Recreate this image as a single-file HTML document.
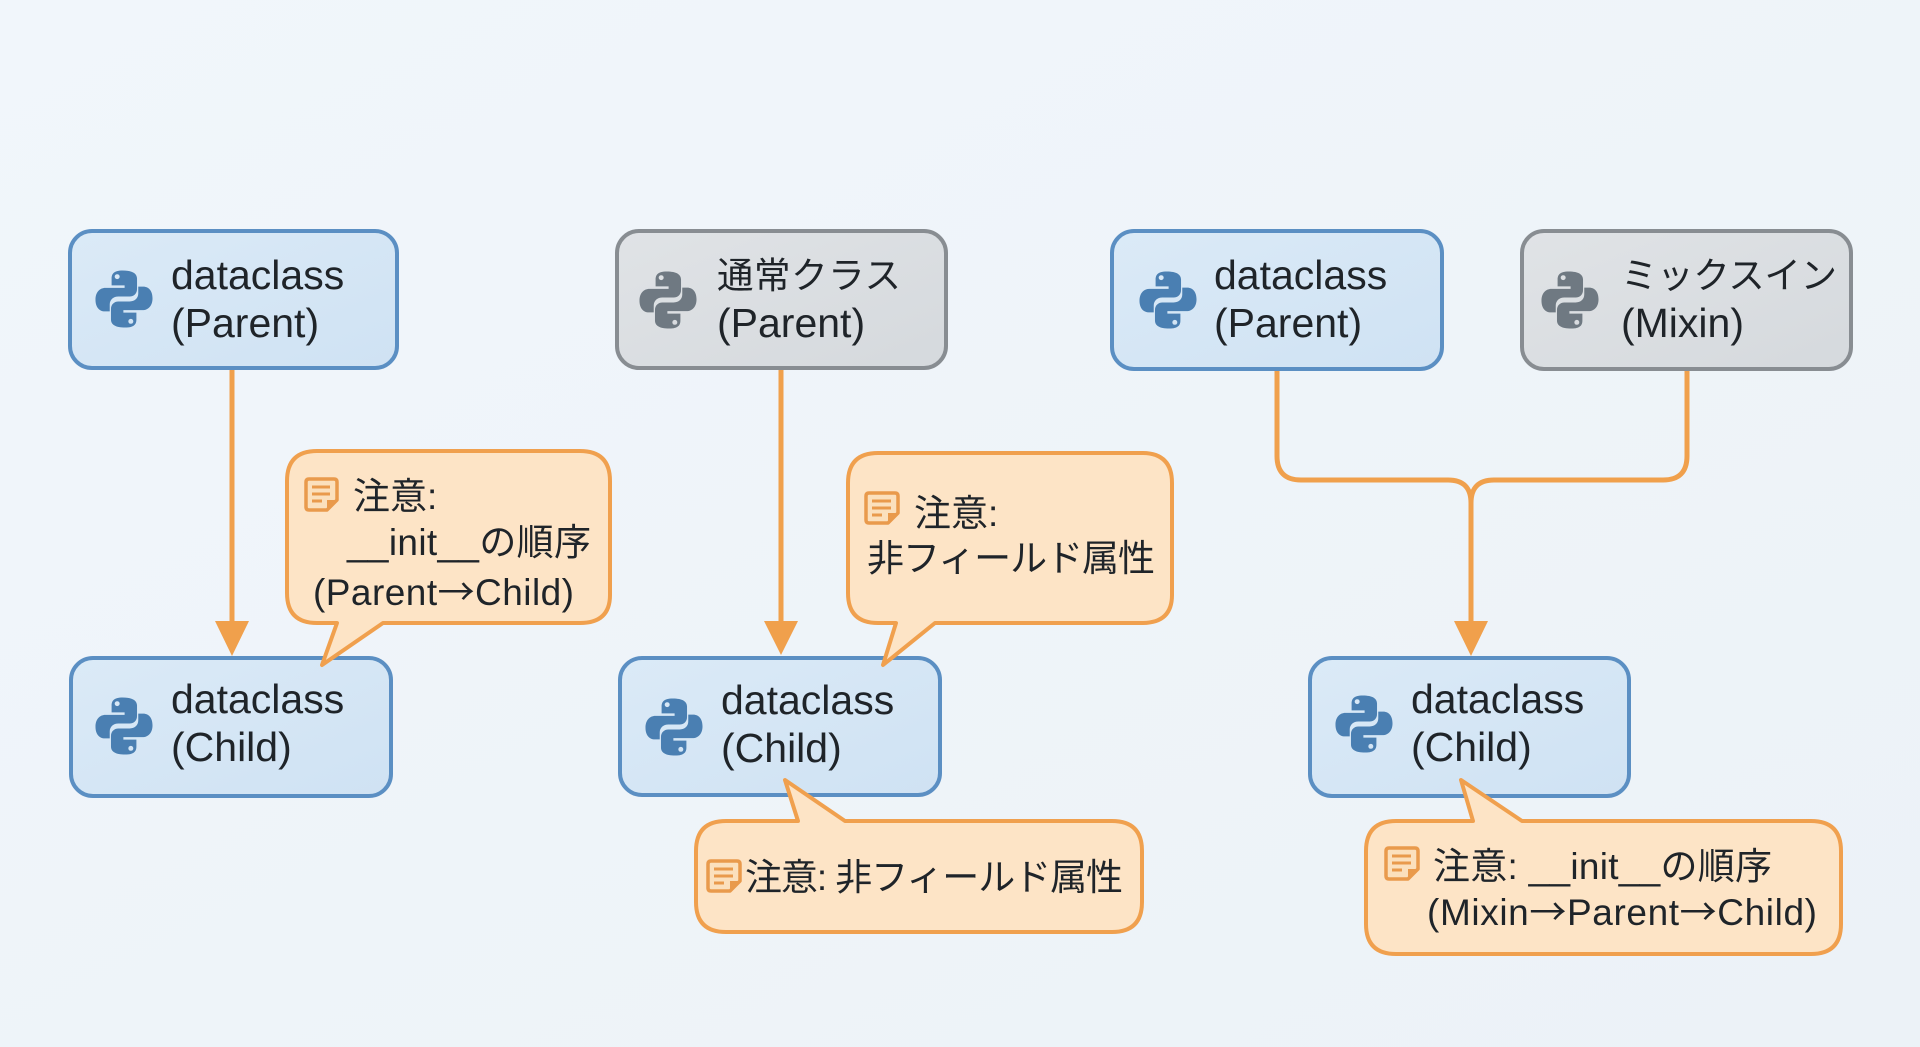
<!DOCTYPE html>
<html>
<head>
<meta charset="utf-8">
<style>
html,body{margin:0;padding:0;}
body{width:1920px;height:1047px;overflow:hidden;background:#eef4f9;}
svg{display:block;}
text{font-family:"Liberation Sans","Noto Sans CJK JP",sans-serif;fill:#1f2429;}
.t{font-size:41px;}
.j{font-size:36.5px;}
.n{font-size:37px;}
.ar{font-family:"Noto Sans CJK JP",sans-serif;}
</style>
</head>
<body>
<svg width="1920" height="1047" viewBox="0 0 1920 1047" xmlns="http://www.w3.org/2000/svg">
<defs>
<linearGradient id="bg" x1="0" y1="0" x2="1" y2="1">
<stop offset="0" stop-color="#f1f6fb"/>
<stop offset="1" stop-color="#ecf2f7"/>
</linearGradient>
<linearGradient id="bl" x1="0" y1="0" x2="1" y2="1">
<stop offset="0" stop-color="#dbeaf7"/>
<stop offset="1" stop-color="#cfe2f3"/>
</linearGradient>
<linearGradient id="gr" x1="0" y1="0" x2="1" y2="1">
<stop offset="0" stop-color="#e0e3e6"/>
<stop offset="1" stop-color="#d5d9dd"/>
</linearGradient>
</defs>
<rect x="0" y="0" width="1920" height="1047" fill="url(#bg)"/>

<!-- connectors -->
<g stroke="#f0a04c" stroke-width="5" fill="none" stroke-linecap="round">
<line x1="232" y1="369" x2="232" y2="626"/>
<line x1="781" y1="368" x2="781" y2="626"/>
<path d="M1277 370 V456 Q1277 480 1301 480 H1448 Q1471 480 1471 503 V626"/>
<path d="M1687 370 V456 Q1687 480 1663 480 H1494 Q1471 480 1471 503"/>
</g>
<g fill="#f0a04c">
<polygon points="215,621 249,621 232,656"/>
<polygon points="764,621 798,621 781,655"/>
<polygon points="1454,621 1488,621 1471,656"/>
</g>

<!-- boxes row 1 -->
<rect x="70" y="231" width="327" height="137" rx="22" fill="url(#bl)" stroke="#5b8fc3" stroke-width="4"/>
<rect x="617" y="231" width="329" height="137" rx="22" fill="url(#gr)" stroke="#888d92" stroke-width="4"/>
<rect x="1112" y="231" width="330" height="138" rx="22" fill="url(#bl)" stroke="#5b8fc3" stroke-width="4"/>
<rect x="1522" y="231" width="329" height="138" rx="22" fill="url(#gr)" stroke="#888d92" stroke-width="4"/>

<!-- boxes row 2 -->
<rect x="71" y="658" width="320" height="138" rx="22" fill="url(#bl)" stroke="#5b8fc3" stroke-width="4"/>
<rect x="620" y="658" width="320" height="137" rx="22" fill="url(#bl)" stroke="#5b8fc3" stroke-width="4"/>
<rect x="1310" y="658" width="319" height="138" rx="22" fill="url(#bl)" stroke="#5b8fc3" stroke-width="4"/>

<!-- python icons -->
<g transform="translate(93,268) scale(0.62)" fill="#4a7fb2">
<path d="M48,4 C33,4 30,10 30,17 V28 H51 V32 H20 C11,32 4,39 4,51 C4,63 10,70 19,70 H27 V59 C27,51 33,46 41,46 H59 C66,46 71,41 71,34 V17 C71,9 64,4 48,4 Z"/>
<path transform="rotate(180 50 50)" d="M48,4 C33,4 30,10 30,17 V28 H51 V32 H20 C11,32 4,39 4,51 C4,63 10,70 19,70 H27 V59 C27,51 33,46 41,46 H59 C66,46 71,41 71,34 V17 C71,9 64,4 48,4 Z"/>
<circle cx="39" cy="14" r="4" fill="#d8e8f6"/><circle cx="61" cy="86" r="4" fill="#d2e4f4"/>
</g>
<g transform="translate(93,695) scale(0.62)" fill="#4a7fb2">
<path d="M48,4 C33,4 30,10 30,17 V28 H51 V32 H20 C11,32 4,39 4,51 C4,63 10,70 19,70 H27 V59 C27,51 33,46 41,46 H59 C66,46 71,41 71,34 V17 C71,9 64,4 48,4 Z"/>
<path transform="rotate(180 50 50)" d="M48,4 C33,4 30,10 30,17 V28 H51 V32 H20 C11,32 4,39 4,51 C4,63 10,70 19,70 H27 V59 C27,51 33,46 41,46 H59 C66,46 71,41 71,34 V17 C71,9 64,4 48,4 Z"/>
<circle cx="39" cy="14" r="4" fill="#d8e8f6"/><circle cx="61" cy="86" r="4" fill="#d2e4f4"/>
</g>
<g transform="translate(637,269) scale(0.62)" fill="#6f7982">
<path d="M48,4 C33,4 30,10 30,17 V28 H51 V32 H20 C11,32 4,39 4,51 C4,63 10,70 19,70 H27 V59 C27,51 33,46 41,46 H59 C66,46 71,41 71,34 V17 C71,9 64,4 48,4 Z"/>
<path transform="rotate(180 50 50)" d="M48,4 C33,4 30,10 30,17 V28 H51 V32 H20 C11,32 4,39 4,51 C4,63 10,70 19,70 H27 V59 C27,51 33,46 41,46 H59 C66,46 71,41 71,34 V17 C71,9 64,4 48,4 Z"/>
<circle cx="39" cy="14" r="4" fill="#dde0e3"/><circle cx="61" cy="86" r="4" fill="#d8dbdf"/>
</g>
<g transform="translate(643,696) scale(0.62)" fill="#4a7fb2">
<path d="M48,4 C33,4 30,10 30,17 V28 H51 V32 H20 C11,32 4,39 4,51 C4,63 10,70 19,70 H27 V59 C27,51 33,46 41,46 H59 C66,46 71,41 71,34 V17 C71,9 64,4 48,4 Z"/>
<path transform="rotate(180 50 50)" d="M48,4 C33,4 30,10 30,17 V28 H51 V32 H20 C11,32 4,39 4,51 C4,63 10,70 19,70 H27 V59 C27,51 33,46 41,46 H59 C66,46 71,41 71,34 V17 C71,9 64,4 48,4 Z"/>
<circle cx="39" cy="14" r="4" fill="#d8e8f6"/><circle cx="61" cy="86" r="4" fill="#d2e4f4"/>
</g>
<g transform="translate(1137,269) scale(0.62)" fill="#4a7fb2">
<path d="M48,4 C33,4 30,10 30,17 V28 H51 V32 H20 C11,32 4,39 4,51 C4,63 10,70 19,70 H27 V59 C27,51 33,46 41,46 H59 C66,46 71,41 71,34 V17 C71,9 64,4 48,4 Z"/>
<path transform="rotate(180 50 50)" d="M48,4 C33,4 30,10 30,17 V28 H51 V32 H20 C11,32 4,39 4,51 C4,63 10,70 19,70 H27 V59 C27,51 33,46 41,46 H59 C66,46 71,41 71,34 V17 C71,9 64,4 48,4 Z"/>
<circle cx="39" cy="14" r="4" fill="#d8e8f6"/><circle cx="61" cy="86" r="4" fill="#d2e4f4"/>
</g>
<g transform="translate(1539,269) scale(0.62)" fill="#6f7982">
<path d="M48,4 C33,4 30,10 30,17 V28 H51 V32 H20 C11,32 4,39 4,51 C4,63 10,70 19,70 H27 V59 C27,51 33,46 41,46 H59 C66,46 71,41 71,34 V17 C71,9 64,4 48,4 Z"/>
<path transform="rotate(180 50 50)" d="M48,4 C33,4 30,10 30,17 V28 H51 V32 H20 C11,32 4,39 4,51 C4,63 10,70 19,70 H27 V59 C27,51 33,46 41,46 H59 C66,46 71,41 71,34 V17 C71,9 64,4 48,4 Z"/>
<circle cx="39" cy="14" r="4" fill="#dde0e3"/><circle cx="61" cy="86" r="4" fill="#d8dbdf"/>
</g>
<g transform="translate(1333,693) scale(0.62)" fill="#4a7fb2">
<path d="M48,4 C33,4 30,10 30,17 V28 H51 V32 H20 C11,32 4,39 4,51 C4,63 10,70 19,70 H27 V59 C27,51 33,46 41,46 H59 C66,46 71,41 71,34 V17 C71,9 64,4 48,4 Z"/>
<path transform="rotate(180 50 50)" d="M48,4 C33,4 30,10 30,17 V28 H51 V32 H20 C11,32 4,39 4,51 C4,63 10,70 19,70 H27 V59 C27,51 33,46 41,46 H59 C66,46 71,41 71,34 V17 C71,9 64,4 48,4 Z"/>
<circle cx="39" cy="14" r="4" fill="#d8e8f6"/><circle cx="61" cy="86" r="4" fill="#d2e4f4"/>
</g>

<!-- box texts -->
<text class="t" x="171" y="289">dataclass</text>
<text class="t" x="171" y="337">(Parent)</text>
<text class="j" x="717" y="288" textLength="184">通常クラス</text>
<text class="t" x="717" y="337">(Parent)</text>
<text class="t" x="1214" y="289">dataclass</text>
<text class="t" x="1214" y="337">(Parent)</text>
<text class="j" x="1621" y="288" textLength="216">ミックスイン</text>
<text class="t" x="1621" y="337">(Mixin)</text>
<text class="t" x="171" y="713">dataclass</text>
<text class="t" x="171" y="761">(Child)</text>
<text class="t" x="721" y="714">dataclass</text>
<text class="t" x="721" y="762">(Child)</text>
<text class="t" x="1411" y="713">dataclass</text>
<text class="t" x="1411" y="761">(Child)</text>

<!-- callouts -->
<g fill="#fde4c6" stroke="#f0a04e" stroke-width="4" stroke-linejoin="round">
<path d="M317 451 H580 Q610 451 610 481 V595 Q610 623 580 623 H383 L322 665 L337 623 H317 Q287 623 287 593 V481 Q287 451 317 451 Z"/>
<path d="M878 453 H1142 Q1172 453 1172 483 V595 Q1172 623 1142 623 H935 L883 665 L896 623 H878 Q848 623 848 593 V483 Q848 453 878 453 Z"/>
<path d="M726 821 H798 L785 780 L845 821 H1112 Q1142 821 1142 851 V902 Q1142 932 1112 932 H726 Q696 932 696 902 V851 Q696 821 726 821 Z"/>
<path d="M1396 821 H1473 L1461 780 L1522 821 H1811 Q1841 821 1841 851 V924 Q1841 954 1811 954 H1396 Q1366 954 1366 924 V851 Q1366 821 1396 821 Z"/>
</g>

<!-- note icons -->
<g fill="#fbe0bd" stroke="#e99a4c" stroke-width="3.5" stroke-linejoin="round">
<path d="M309 479 H334 Q337 479 337 482 V500 L327 510 H309 Q306 510 306 507 V482 Q306 479 309 479 Z"/>
<path d="M869 493 H895 Q898 493 898 496 V513 L888 523 H869 Q866 523 866 520 V496 Q866 493 869 493 Z"/>
<path d="M711 861 H737 Q740 861 740 864 V881 L730 891 H711 Q708 891 708 888 V864 Q708 861 711 861 Z"/>
<path d="M1389 848 H1415 Q1418 848 1418 851 V869 L1408 879 H1389 Q1386 879 1386 876 V851 Q1386 848 1389 848 Z"/>
</g>
<g stroke="#e99a4c" stroke-width="3" fill="none">
<path d="M312 487 H330 M312 494 H330 M312 501 H322"/>
<path d="M872 501 H891 M872 508 H891 M872 515 H882"/>
<path d="M714 869 H733 M714 876 H733 M714 883 H724"/>
<path d="M1392 856 H1411 M1392 863 H1411 M1392 870 H1402"/>
</g>
<g fill="#e99a4c">
<polygon points="337,500 327,510 327,500"/>
<polygon points="898,513 888,523 888,513"/>
<polygon points="740,881 730,891 730,881"/>
<polygon points="1418,869 1408,879 1408,869"/>
</g>

<!-- callout texts -->
<text class="n" x="353" y="509">注意:</text>
<text class="n" x="347" y="555" textLength="244">__init__の順序</text>
<text class="n" x="313" y="605" textLength="261">(Parent<tspan class="ar">→</tspan>Child)</text>

<text class="n" x="914" y="526">注意:</text>
<text class="n" x="867" y="571" textLength="288">非フィールド属性</text>

<text class="n" x="745" y="890" textLength="378">注意: 非フィールド属性</text>

<text class="n" x="1433" y="879" textLength="339">注意: __init__の順序</text>
<text class="n" x="1427" y="925" textLength="390">(Mixin<tspan class="ar">→</tspan>Parent<tspan class="ar">→</tspan>Child)</text>
</svg>
</body>
</html>
